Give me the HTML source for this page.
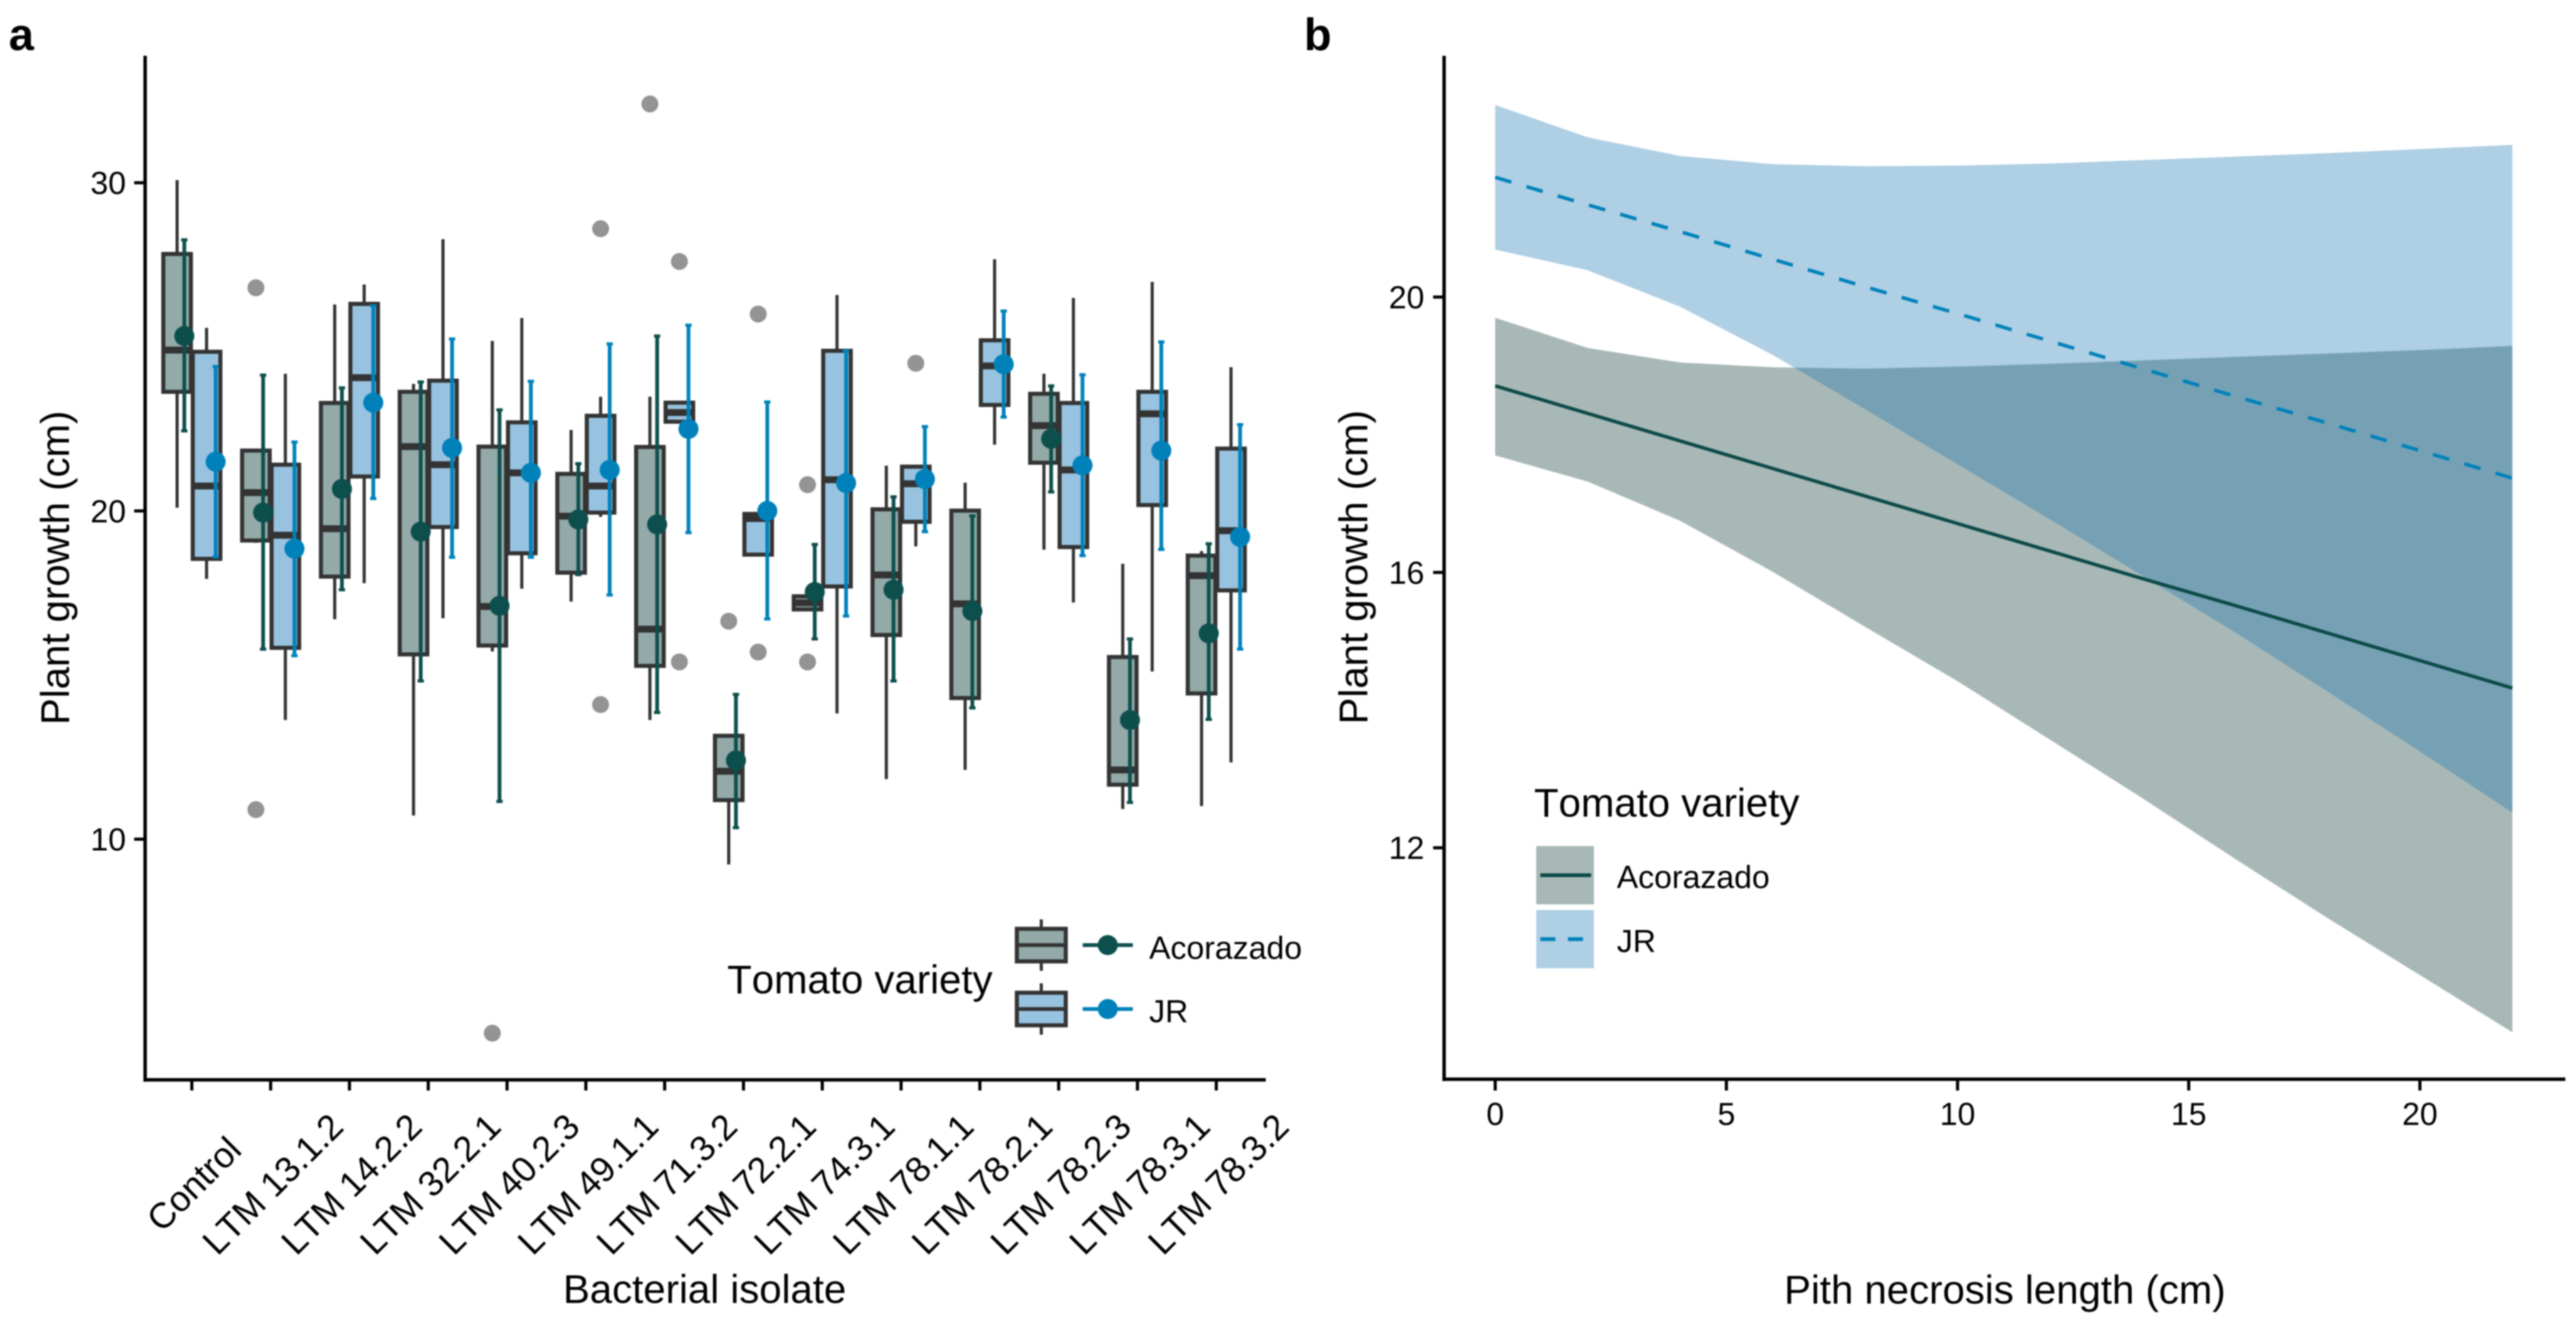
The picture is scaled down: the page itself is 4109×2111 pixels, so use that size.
<!DOCTYPE html>
<html lang="en">
<head>
<meta charset="utf-8">
<title>Plant growth by bacterial isolate and pith necrosis length</title>
<style>
  html, body { margin: 0; padding: 0; background: #ffffff; }
  svg { display: block; filter: blur(1px); }
  text { font-family: "Liberation Sans", Arial, sans-serif; fill: #000000; font-kerning: none; }
</style>
</head>
<body>
<svg id="figure" xmlns="http://www.w3.org/2000/svg" width="4109" height="2111" viewBox="0 0 4109 2111">
  <rect x="0" y="0" width="4109" height="2111" fill="#ffffff"/>
  <text x="14" y="80" font-size="72" font-weight="700">a</text>
  <text x="2080" y="80" font-size="72" font-weight="700">b</text>
  <g id="panel-a"></g>
  <g id="panel-b"></g>
</svg>
<script>
/* ---------- Panel a data ---------- */
const isolates = ["Control","LTM 13.1.2","LTM 14.2.2","LTM 32.2.1","LTM 40.2.3","LTM 49.1.1","LTM 71.3.2","LTM 72.2.1","LTM 74.3.1","LTM 78.1.1","LTM 78.2.1","LTM 78.2.3","LTM 78.3.1","LTM 78.3.2"];
const growthTicks = [10, 20, 30];

const acWhiskerLow  = [20.1,19.03,16.7,10.72,15.72,17.24,13.63,9.23,17.0,11.83,12.11,18.82,10.92,11.01];
const acQ1          = [23.63,19.1,18.0,15.63,15.9,18.12,15.28,11.19,17.0,16.22,14.3,21.47,11.66,14.44];
const acMedian      = [24.9,20.56,19.46,21.96,17.09,19.84,16.4,12.07,17.2,18.05,17.17,22.6,12.11,18.03];
const acQ3          = [27.83,21.84,23.29,23.63,21.96,21.13,21.95,13.15,17.4,20.05,20.01,23.57,15.55,18.64];
const acWhiskerHigh = [30.08,21.9,26.29,23.87,25.18,22.47,23.48,13.18,17.4,21.38,20.86,24.18,18.39,18.78];
const acMean        = [25.33,19.95,20.67,19.37,17.11,19.74,19.59,12.4,17.53,17.6,16.95,22.2,13.63,16.27];
const acErrLow      = [22.44,15.79,17.6,14.82,11.15,18.06,13.86,10.35,16.1,14.82,14.0,20.58,11.12,13.65];
const acErrHigh     = [28.26,24.14,23.75,23.93,23.08,21.44,25.33,14.41,18.98,20.43,19.85,23.81,16.1,19.0];
const acOutliers    = [[],[26.8,10.9],[],[],[4.09],[],[32.4],[16.64],[20.8,15.4],[],[],[],[],[]];

const jrWhiskerLow  = [17.93,13.63,17.8,16.73,17.63,19.82,22.72,18.67,13.83,18.92,22.02,17.21,15.11,12.34];
const jrQ1          = [18.54,15.83,21.05,19.51,18.71,19.95,22.72,18.67,17.7,19.67,23.23,18.9,20.18,17.58];
const jrMedian      = [20.76,19.26,24.06,21.41,21.16,20.76,23.0,19.77,20.95,20.83,24.42,21.25,22.96,19.4];
const jrQ3          = [24.85,21.41,26.31,23.97,22.7,22.9,23.3,19.91,24.88,21.35,25.2,23.29,23.63,21.9];
const jrWhiskerHigh = [25.58,24.18,26.9,28.28,25.88,23.48,23.3,19.91,26.58,21.38,27.67,26.49,26.98,24.38];
const jrMean        = [21.5,18.85,23.3,21.92,21.16,21.25,22.5,20.0,20.85,20.97,24.47,21.39,21.84,19.21];
const jrErrLow      = [18.6,15.59,20.38,18.59,18.59,17.44,19.34,16.71,16.8,19.37,22.86,18.64,18.83,15.79];
const jrErrHigh     = [24.4,22.1,26.25,25.24,23.95,25.09,25.66,23.32,24.88,22.57,26.09,24.15,25.15,22.63];
const jrOutliers    = [[],[],[],[],[],[28.6,14.1],[27.6,15.4],[26.0,15.7],[],[24.5],[],[],[],[]];

/* ---------- Panel b data ---------- */
const necrosisX  = [0,2,4,6,8,10,12,14,16,18,20,22];
const acFit      = [18.71,18.31,17.91,17.51,17.11,16.71,16.31,15.91,15.52,15.12,14.72,14.32];
const acLower    = [17.70,17.32,16.75,16.01,15.21,14.42,13.57,12.72,11.84,10.98,10.15,9.32];
const acUpper    = [19.70,19.26,19.05,18.98,18.96,18.99,19.03,19.08,19.13,19.18,19.23,19.29];
const jrFit      = [21.74,21.34,20.95,20.55,20.15,19.76,19.36,18.96,18.56,18.17,17.77,17.37];
const jrLower    = [20.69,20.39,19.86,19.16,18.37,17.57,16.77,15.95,15.13,14.27,13.40,12.51];
const jrUpper    = [22.79,22.32,22.05,21.93,21.90,21.91,21.94,21.99,22.04,22.09,22.15,22.21];
const necrosisTicks = [0,5,10,15,20];
const fitGrowthTicks = [12,16,20];

/* ---------- Palette ---------- */
const colAc = "#0c4f4c", colJr = "#0081ba", boxAc = "#93aaa9", boxJr = "#98c3e0", inkBox = "#333333";
const SVGNS = "http://www.w3.org/2000/svg";

function mk(parent, tag, attrs, txt) {
  const el = document.createElementNS(SVGNS, tag);
  for (const k in attrs) el.setAttribute(k, attrs[k]);
  if (txt !== undefined) el.textContent = txt;
  parent.appendChild(el);
  return el;
}

/* ---------- Axis functions ---------- */
const xA = i => 306 + 125.7 * i;
const yA = v => 1339 - (v - 10) * 52.37;
const xB = v => 2385 + 73.75 * v;
const yB = v => 474 + (20 - v) * 109.84;

/* ---------- Panel a ---------- */
const pa = document.getElementById("panel-a");

function drawBox(i, offset, fill, wl, q1, med, q3, wh, outliers, key) {
  const cx = xA(i) + offset;
  const w = mk(pa, "line", {x1:cx, x2:cx, y1:yA(wl), y2:yA(wh), stroke:inkBox, "stroke-width":5});
  
  
  const b = mk(pa, "rect", {x:cx-22, y:yA(q3), width:44, height:Math.max(yA(q1)-yA(q3),1), fill:fill, stroke:inkBox, "stroke-width":6.5});
  
  
  const m = mk(pa, "line", {x1:cx-22, x2:cx+22, y1:yA(med), y2:yA(med), stroke:inkBox, "stroke-width":11});
  
  
  outliers.forEach(v => {
    const o = mk(pa, "circle", {cx:cx, cy:yA(v), r:13, fill:"#000000", "fill-opacity":0.42, stroke:"#000000", "stroke-opacity":0.15, "stroke-width":2});
    
    
  });
}

function drawRange(i, offset, col, lo, hi, mean, key) {
  const cx = xA(i) + offset;
  const l = mk(pa, "line", {x1:cx, x2:cx, y1:yA(lo), y2:yA(hi), stroke:col, "stroke-width":6});
  
  
  [lo, hi].forEach(v => {
    const c = mk(pa, "line", {x1:cx-5, x2:cx+5, y1:yA(v), y2:yA(v), stroke:col, "stroke-width":5});
    
    
  });
  const p = mk(pa, "circle", {cx:cx, cy:yA(mean), r:16, fill:col});
  
  
}

isolates.forEach((name, i) => {
  drawBox(i, -23.5, boxAc, acWhiskerLow[i], acQ1[i], acMedian[i], acQ3[i], acWhiskerHigh[i], acOutliers[i], "acorazado-" + i);
  drawBox(i, 23.5, boxJr, jrWhiskerLow[i], jrQ1[i], jrMedian[i], jrQ3[i], jrWhiskerHigh[i], jrOutliers[i], "jr-" + i);
});
isolates.forEach((name, i) => {
  drawRange(i, -12, colAc, acErrLow[i], acErrHigh[i], acMean[i], "acorazado-" + i);
  drawRange(i, 38, colJr, jrErrLow[i], jrErrHigh[i], jrMean[i], "jr-" + i);
});

const axAy = mk(pa, "line", {x1:231.5, x2:231.5, y1:89, y2:1726, stroke:"#000", "stroke-width":5.5});


const axAx = mk(pa, "line", {x1:229, x2:2019, y1:1723, y2:1723, stroke:"#000", "stroke-width":5.5});



growthTicks.forEach(v => {
  const t = mk(pa, "line", {x1:214, x2:232, y1:yA(v), y2:yA(v), stroke:"#000", "stroke-width":5});
  
  
  const l = mk(pa, "text", {x:201, y:yA(v)+18, "font-size":51, "text-anchor":"end"}, String(v));
  
  
});
isolates.forEach((name, i) => {
  const t = mk(pa, "line", {x1:xA(i), x2:xA(i), y1:1723, y2:1740, stroke:"#000", "stroke-width":5});
  
  
  const cx = xA(i) + 3, cy = 1889;
  const l = mk(pa, "text", {x:cx, y:cy+20, "font-size":57, "text-anchor":"middle", transform:"rotate(-45 "+cx+" "+cy+")"}, name);
  
  
});

const titleAy = mk(pa, "text", {x:0, y:0, "font-size":64, "text-anchor":"middle", transform:"translate(110 906) rotate(-90)"}, "Plant growth (cm)");


const titleAx = mk(pa, "text", {x:1124, y:2079, "font-size":64, "text-anchor":"middle"}, "Bacterial isolate");



/* legend a */
const legA = mk(pa, "g", {});


const legATitle = mk(legA, "text", {x:1160, y:1585, "font-size":64}, "Tomato variety");



function legendAEntry(label, fill, col, yMid, yBase, key) {
  const g = mk(legA, "g", {});
  
  
  mk(g, "line", {x1:1661, x2:1661, y1:yMid-41, y2:yMid+41, stroke:inkBox, "stroke-width":5});
  mk(g, "rect", {x:1622, y:yMid-26, width:78, height:52, fill:fill, stroke:inkBox, "stroke-width":6.5});
  mk(g, "line", {x1:1622, x2:1700, y1:yMid, y2:yMid, stroke:inkBox, "stroke-width":6});
  mk(g, "line", {x1:1727, x2:1807, y1:yMid, y2:yMid, stroke:col, "stroke-width":6});
  mk(g, "circle", {cx:1767, cy:yMid, r:16, fill:col});
  mk(g, "text", {x:1833, y:yBase, "font-size":51}, label);
}
legendAEntry("Acorazado", boxAc, colAc, 1508, 1530, "acorazado");
legendAEntry("JR", boxJr, colJr, 1610, 1631, "jr");

/* ---------- Panel b ---------- */
const pb = document.getElementById("panel-b");
const bandFillAc = "#0b3835", bandFillJr = "#1b78b4", bandAlpha = 0.356;

function bandPoints(lo, hi) {
  const top = necrosisX.map((x, i) => xB(x) + "," + yB(hi[i]));
  const bot = necrosisX.map((x, i) => xB(x) + "," + yB(lo[i])).reverse();
  return top.concat(bot).join(" ");
}
function linePoints(vals) {
  return necrosisX.map((x, i) => xB(x) + "," + yB(vals[i])).join(" ");
}

const bandAc = mk(pb, "polygon", {points:bandPoints(acLower, acUpper), fill:bandFillAc, "fill-opacity":bandAlpha});


const bandJr = mk(pb, "polygon", {points:bandPoints(jrLower, jrUpper), fill:bandFillJr, "fill-opacity":bandAlpha});


const lineAc = mk(pb, "polyline", {points:linePoints(acFit), fill:"none", stroke:"#0c4a48", "stroke-width":5.5});


const lineJr = mk(pb, "polyline", {points:linePoints(jrFit), fill:"none", stroke:colJr, "stroke-width":5.5, "stroke-dasharray":"27 25"});



const axBy = mk(pb, "line", {x1:2303.5, x2:2303.5, y1:89, y2:1725, stroke:"#000", "stroke-width":5.5});


const axBx = mk(pb, "line", {x1:2301, x2:4092, y1:1722, y2:1722, stroke:"#000", "stroke-width":5.5});



fitGrowthTicks.forEach(v => {
  const t = mk(pb, "line", {x1:2286, x2:2304, y1:yB(v), y2:yB(v), stroke:"#000", "stroke-width":5});
  
  
  const l = mk(pb, "text", {x:2272, y:yB(v)+18, "font-size":51, "text-anchor":"end"}, String(v));
  
  
});
necrosisTicks.forEach(v => {
  const t = mk(pb, "line", {x1:xB(v), x2:xB(v), y1:1722, y2:1740, stroke:"#000", "stroke-width":5});
  
  
  const l = mk(pb, "text", {x:xB(v), y:1795, "font-size":51, "text-anchor":"middle"}, String(v));
  
  
});

const titleBy = mk(pb, "text", {x:0, y:0, "font-size":64, "text-anchor":"middle", transform:"translate(2181 905) rotate(-90)"}, "Plant growth (cm)");


const titleBx = mk(pb, "text", {x:3198, y:2080, "font-size":64, "text-anchor":"middle"}, "Pith necrosis length (cm)");



/* legend b */
const legB = mk(pb, "g", {});


const legBTitle = mk(legB, "text", {x:2447, y:1303, "font-size":64}, "Tomato variety");



function legendBEntry(label, fill, col, dash, yTop, yMid, yBase, key) {
  const g = mk(legB, "g", {});
  
  
  mk(g, "rect", {x:2450.5, y:yTop, width:92, height:93, fill:fill, "fill-opacity":bandAlpha});
  const ln = {x1:2457, x2:2538, y1:yMid, y2:yMid, stroke:col, "stroke-width":6};
  if (dash) ln["stroke-dasharray"] = dash;
  mk(g, "line", ln);
  mk(g, "text", {x:2579, y:yBase, "font-size":51}, label);
}
legendBEntry("Acorazado", bandFillAc, "#0c4a48", null, 1350, 1396.5, 1417, "acorazado");
legendBEntry("JR", bandFillJr, colJr, "24 20", 1452, 1498.5, 1519, "jr");
</script>
</body>
</html>
